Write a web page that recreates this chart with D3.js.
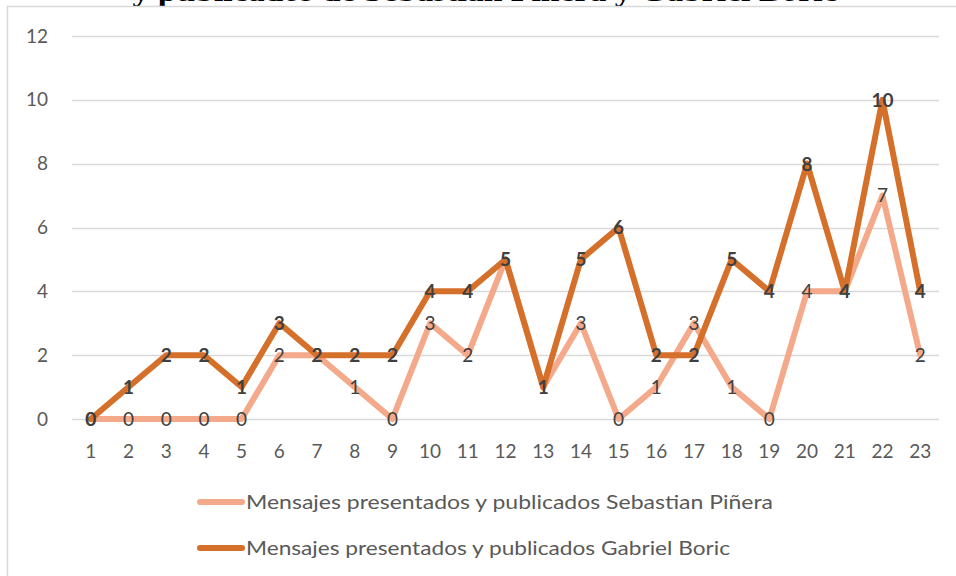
<!DOCTYPE html>
<html><head><meta charset="utf-8">
<script src="https://cdnjs.cloudflare.com/ajax/libs/d3/7.8.5/d3.min.js"></script>
<style>body{margin:0;background:#fff;} svg{display:block;}</style>
</head><body>
<svg id="c" width="956" height="576"></svg>
<script>
const categories = ["1","2","3","4","5","6","7","8","9","10","11","12","13","14","15","16","17","18","19","20","21","22","23"];
const pinera = [0,0,0,0,0,2,2,1,0,3,2,5,1,3,0,1,3,1,0,4,4,7,2];
const boric  = [0,1,2,2,1,3,2,2,2,4,4,5,1,5,6,2,2,5,4,8,4,10,4];
const yTicks = [0,2,4,6,8,10,12];
const seriesNames = ["Mensajes presentados y publicados Sebastian Piñera","Mensajes presentados y publicados Gabriel Boric"];
const titleText = "y publicados de Sebastián Piñera y Gabriel Boric";

const svg = d3.select("#c");
const font = "Lato, 'Open Sans', 'Liberation Sans', sans-serif";
const textCol = "#595959";
const colP = "#F4A98A", colB = "#D5702B";
const fs = 19;

// title (clipped at top)
svg.append("text").attr("x", 485).attr("y", 0.5).attr("text-anchor","middle")
  .attr("font-family","'Liberation Serif', 'DejaVu Serif', serif").attr("font-weight","bold")
  .attr("font-size", 30).attr("fill","#000").attr("textLength", 705).attr("lengthAdjust","spacingAndGlyphs")
  .text(titleText);

// chart border
svg.append("rect").attr("x",7.5).attr("y",6.5).attr("width",960).attr("height",580)
  .attr("fill","#fff").attr("stroke","#d9d9d9").attr("stroke-width",1.5);

const x = d3.scaleBand().domain(categories).range([72,939]);
const y = d3.scaleLinear().domain([0,12]).range([419,36]);

// grid
svg.append("g").selectAll("line").data(yTicks).join("line")
  .attr("x1",72).attr("x2",939).attr("y1",d=>Math.round(y(d))+0.5).attr("y2",d=>Math.round(y(d))+0.5)
  .attr("stroke","#d9d9d9").attr("stroke-width",1.5);

// y axis labels
const yAxis = d3.axisLeft(y).tickValues(yTicks).tickSize(0).tickPadding(0);
const gy = svg.append("g").attr("transform","translate(48,0)").call(yAxis);
gy.select(".domain").remove();
gy.selectAll("text").attr("font-family",font).attr("font-size",fs).attr("fill",textCol);

// x axis labels
const xAxis = d3.axisBottom(x).tickSize(0).tickPadding(0);
const gx = svg.append("g").attr("transform","translate(0,451)").call(xAxis);
gx.select(".domain").remove();
gx.selectAll("text").attr("font-family",font).attr("font-size",fs).attr("fill",textCol).attr("y",0).attr("dy","0.35em");

const cx = (d,i) => x(categories[i]) + x.bandwidth()/2;
const line = d3.line().x((d,i)=>cx(d,i)).y(d=>y(d)).curve(d3.curveLinear);

svg.append("path").datum(pinera).attr("d",line).attr("fill","none").attr("stroke",colP)
  .attr("stroke-width",6).attr("stroke-linejoin","round").attr("stroke-linecap","round");
svg.append("path").datum(boric).attr("d",line).attr("fill","none").attr("stroke",colB)
  .attr("stroke-width",6).attr("stroke-linejoin","round").attr("stroke-linecap","round");

// data labels
svg.append("g").selectAll("text").data(pinera).join("text")
  .attr("x",(d,i)=>cx(d,i)).attr("y",d=>y(d)).attr("dy","0.36em").attr("text-anchor","middle")
  .attr("font-family",font).attr("font-size",fs).attr("fill","#404040").text(d=>d);
svg.append("g").selectAll("text").data(boric).join("text")
  .attr("x",(d,i)=>cx(d,i)).attr("y",d=>y(d)).attr("dy","0.36em").attr("text-anchor","middle")
  .attr("font-family",font).attr("font-size",fs).attr("font-weight","bold").attr("fill","#404040").text(d=>d);

// legend
const leg = svg.append("g");
[[colP,502,527],[colB,548,484]].forEach(([c,yy,tl],k)=>{
  leg.append("line").attr("x1",200).attr("x2",242).attr("y1",yy).attr("y2",yy)
    .attr("stroke",c).attr("stroke-width",6).attr("stroke-linecap","round");
  leg.append("text").attr("x",246).attr("y",yy).attr("dy","0.35em")
    .attr("font-family",font).attr("font-size",fs).attr("fill",textCol)
    .attr("textLength",tl).attr("lengthAdjust","spacingAndGlyphs").text(seriesNames[k]);
});
</script>
</body></html>
